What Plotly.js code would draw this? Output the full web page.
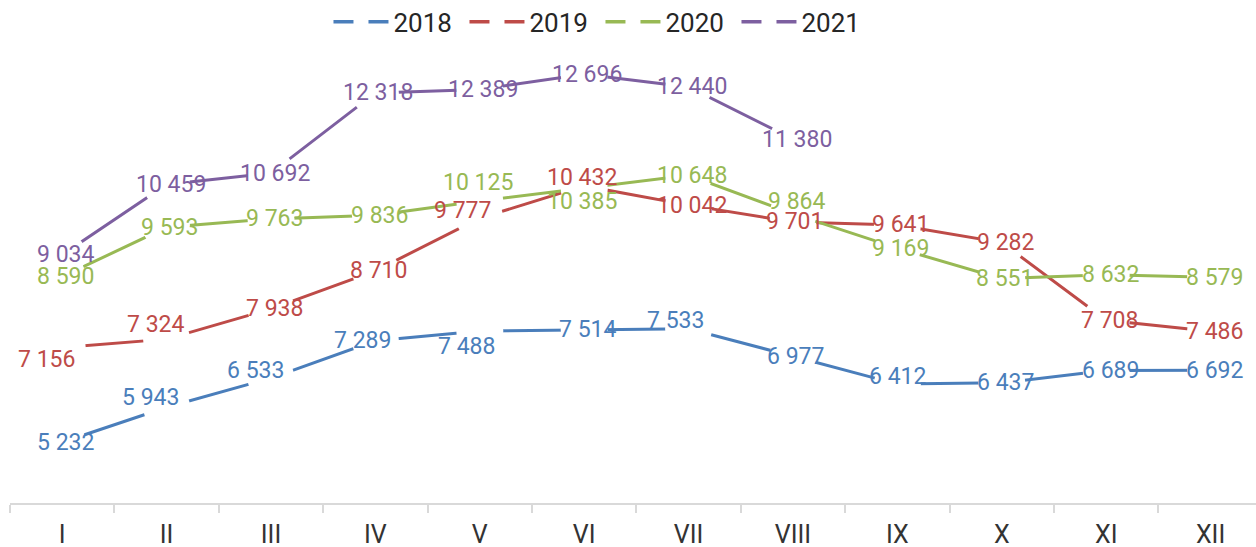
<!DOCTYPE html>
<html>
<head>
<meta charset="utf-8">
<script src="https://cdn.plot.ly/plotly-3.0.1.min.js"></script>
<style>html,body{margin:0;padding:0;background:#fff;}#chart{width:1256px;height:547px;}</style>
</head>
<body>
<div id="chart"></div>
<script>
// ---- data ----
const months = ['I','II','III','IV','V','VI','VII','VIII','IX','X','XI','XII'];
const seriesNames = ['2018','2019','2020','2021'];
const values2018 = [5232, 5943, 6533, 7289, 7488, 7514, 7533, 6977, 6412, 6437, 6689, 6692];
const values2019 = [7156, 7324, 7938, 8710, 9777, 10432, 10042, 9701, 9641, 9282, 7708, 7486];
const values2020 = [8590, 9593, 9763, 9836, 10125, 10385, 10648, 9864, 9169, 8551, 8632, 8579];
const values2021 = [9034, 10459, 10692, 12318, 12389, 12696, 12440, 11380];

// ---- styling ----
const colors = ['#4A7EBB', '#BE4B48', '#98B954', '#7D5FA0'];
// per-label pixel offsets [xshift, yshift]
const labelShifts = [
  [[3,0],[-16,10],[-16,8],[-13,0],[-13,-15],[3,0],[-13,8],[3,0],[0,8],[4,0],[4,0],[4,0]],
  [[-16,-12],[-11,15],[3,0],[3,0],[-17,8],[-2,8],[3,0],[2,0],[3,0],[4,0],[3,0],[4,0]],
  [[3,0],[3,0],[3,0],[4,0],[-2,19],[-2,-13],[3,0],[4,12],[3,0],[3,0],[4,0],[4,0]],
  [[3,0],[4,0],[4,0],[3,0],[3,0],[3,0],[3,0],[4,0]]
];

const allValues = [values2018, values2019, values2020, values2021];
function fmt(v){ return String(v).replace(/\B(?=(\d{3})+(?!\d))/g, ' '); }

const traces = [];
const annotations = [];
allValues.forEach((vals, s) => {
  const xs = months.slice(0, vals.length);
  traces.push({
    type: 'scatter', mode: 'lines+markers', x: xs, y: vals, name: seriesNames[s],
    showlegend: false, hoverinfo: 'skip',
    line: {color: colors[s], width: 3},
    marker: {color: '#ffffff', size: 47, line: {width: 0}}
  });
  vals.forEach((v, i) => {
    const sh = labelShifts[s][i] || [3,0];
    annotations.push({
      x: xs[i], y: v, xref: 'x', yref: 'y', text: fmt(v), showarrow: false,
      xanchor: 'center', yanchor: 'middle', xshift: sh[0], yshift: sh[1],
      font: {family: 'Roboto', size: 23, color: colors[s]}
    });
  });
});
// legend entries (dashed symbols)
seriesNames.forEach((n, s) => {
  traces.push({
    type: 'scatter', mode: 'lines', x: [null], y: [null], name: n,
    hoverinfo: 'skip', line: {color: colors[s], width: 3.5, dash: '20px,15px'}
  });
});

const layout = {
  width: 1256, height: 547,
  margin: {l: 10, r: 0, t: 10, b: 44, autoexpand: false},
  paper_bgcolor: '#ffffff', plot_bgcolor: '#ffffff',
  hovermode: false,
  showlegend: true,
  legend: {
    orientation: 'h', x: 0.2556, xanchor: 'left', y: 0.976, yanchor: 'middle',
    font: {family: 'Roboto', size: 26, color: '#262626'},
    itemwidth: 55, entrywidth: 66, bgcolor: 'rgba(0,0,0,0)'
  },
  xaxis: {
    type: 'category', categoryorder: 'array', categoryarray: months,
    range: [-0.5, 11.435], fixedrange: true, automargin: false,
    showline: true, linecolor: '#D9D9D9', linewidth: 2,
    ticks: 'outside', tickson: 'boundaries', ticklen: 8, tickwidth: 2, tickcolor: '#D9D9D9',
    ticklabelstandoff: 8,
    showgrid: false, zeroline: false,
    tickfont: {family: 'Roboto', size: 25, color: '#333333'}
  },
  yaxis: {
    range: [4000, 14000], visible: false, fixedrange: true, automargin: false,
    showgrid: false, zeroline: false
  },
  annotations: annotations
};

Plotly.newPlot('chart', traces, layout, {displayModeBar: false, staticPlot: true});
</script>
</body>
</html>
